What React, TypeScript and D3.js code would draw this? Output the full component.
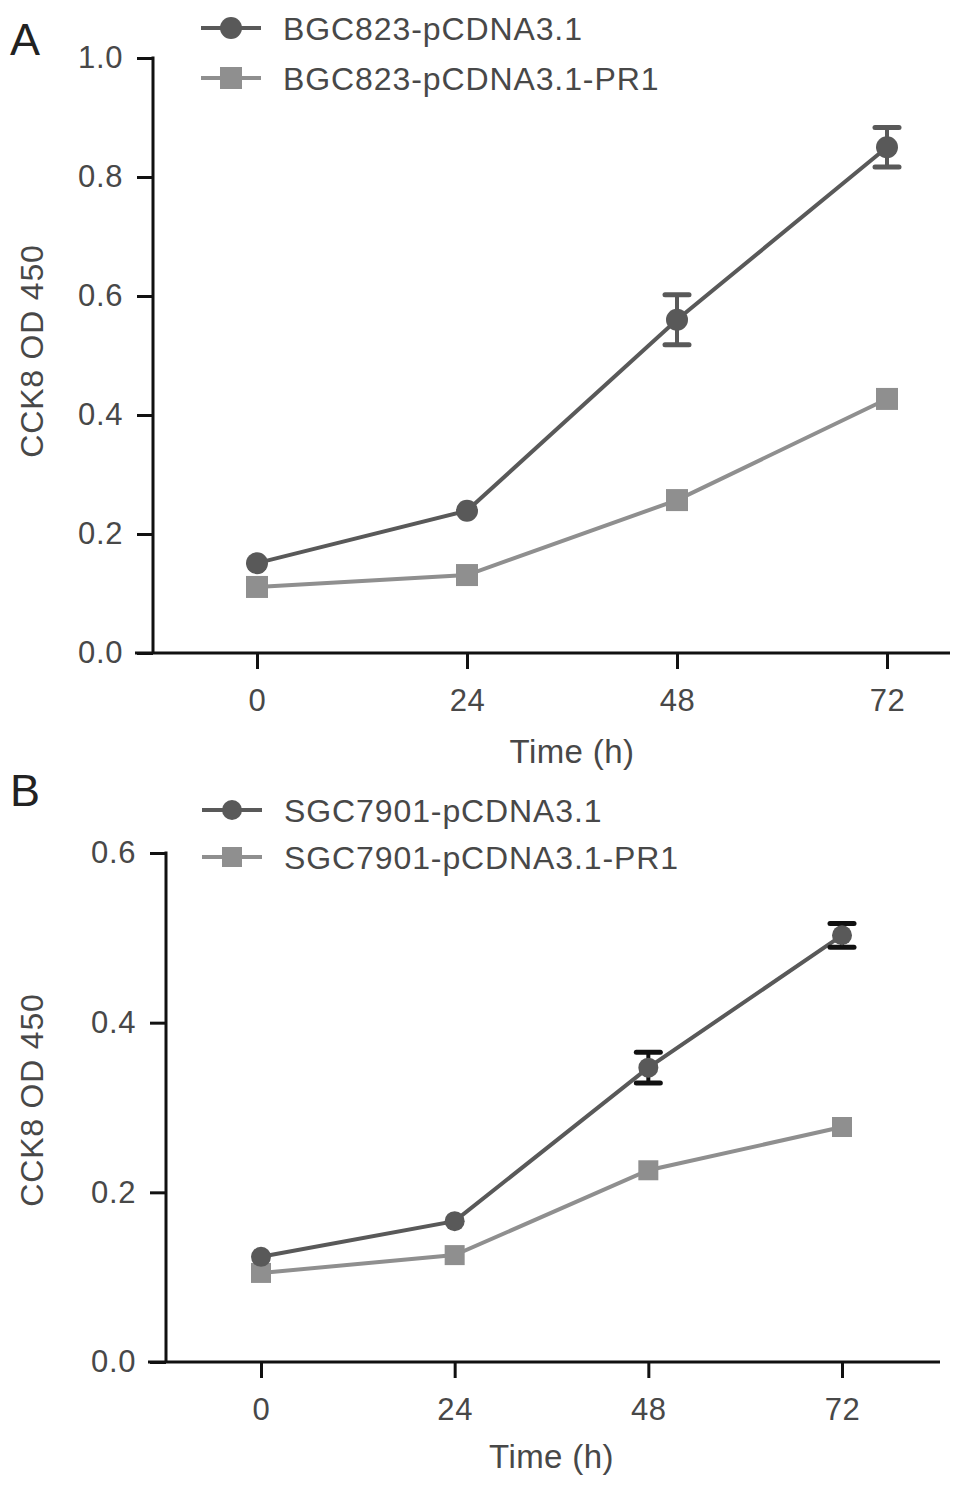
import { useEffect, useRef } from 'react';
import * as d3 from 'd3';

// Time points (h)
const TIMES = [0, 24, 48, 72];

// Panel A — BGC823
const A_LABELS = ['BGC823-pCDNA3.1', 'BGC823-pCDNA3.1-PR1'];
const A_CTRL = [0.151, 0.239, 0.56, 0.85];
const A_CTRL_ERR = [0, 0, 0.042, 0.033];
const A_PR1 = [0.111, 0.131, 0.257, 0.427];
const A_PR1_ERR = [0, 0, 0, 0];
const A_Y_TICKS = [0, 0.2, 0.4, 0.6, 0.8, 1.0];

// Panel B — SGC7901
const B_LABELS = ['SGC7901-pCDNA3.1', 'SGC7901-pCDNA3.1-PR1'];
const B_CTRL = [0.124, 0.166, 0.347, 0.503];
const B_CTRL_ERR = [0, 0, 0.018, 0.014];
const B_PR1 = [0.105, 0.126, 0.226, 0.277];
const B_PR1_ERR = [0, 0, 0, 0];
const B_Y_TICKS = [0, 0.2, 0.4, 0.6];

const FONT = '"Liberation Sans", Arial, Helvetica, sans-serif';
const TEXT = '#484848';
const DARK = '#595959';
const LIGHT = '#8f8f8f';

interface PanelProps {
  letter: string;
  letterY: number;
  labels: string[];
  ctrl: number[];
  ctrlErr: number[];
  pr1: number[];
  pr1Err: number[];
  yTicks: number[];
  yMax: number;
  x0: number; x1: number;       // pixel range for 0..72 h
  yTop: number; yBottom: number; // pixel range for yMax..0
  axisX: number;                 // y-axis position
  xAxisLeft: number; xAxisRight: number;
  legendX: number; legendY: number[];
  errColor: string;
  markerR: number;
  titleY: number;
  yTitleY: number;
}

function Panel(p: PanelProps) {
  const ref = useRef<SVGGElement>(null);

  useEffect(() => {
    if (!ref.current) return;
    const g = d3.select(ref.current);
    g.selectAll('*').remove();

    const x = d3.scaleLinear().domain([0, 72]).range([p.x0, p.x1]);
    const y = d3.scaleLinear().domain([0, p.yMax]).range([p.yBottom, p.yTop]);

    // panel letter
    g.append('text').attr('x', 10).attr('y', p.letterY)
      .attr('font-size', 45).attr('fill', '#222').attr('font-family', FONT).text(p.letter);

    // axes
    g.append('line').attr('x1', p.xAxisLeft).attr('x2', p.xAxisRight)
      .attr('y1', p.yBottom).attr('y2', p.yBottom).attr('stroke', '#111').attr('stroke-width', 3);
    g.append('line').attr('x1', p.axisX).attr('x2', p.axisX)
      .attr('y1', p.yTop - 1.5).attr('y2', p.yBottom).attr('stroke', '#111').attr('stroke-width', 3);

    g.append('g').attr('transform', `translate(0,${p.yBottom})`)
      .call(d3.axisBottom(x).tickValues(TIMES).tickSize(16).tickPadding(20).tickFormat(d3.format('d')))
      .call(s => s.select('.domain').remove())
      .call(s => s.selectAll('.tick line').attr('stroke', '#111').attr('stroke-width', 3))
      .call(s => s.selectAll('text').attr('fill', TEXT).attr('font-size', 31)
        .attr('letter-spacing', 0.6).attr('font-family', FONT));

    g.append('g').attr('transform', `translate(${p.axisX},0)`)
      .call(d3.axisLeft(y).tickValues(p.yTicks).tickSize(16).tickPadding(14).tickFormat(d3.format('.1f')))
      .call(s => s.select('.domain').remove())
      .call(s => s.selectAll('.tick line').attr('stroke', '#111').attr('stroke-width', 3))
      .call(s => s.selectAll('text').attr('fill', TEXT).attr('font-size', 31)
        .attr('letter-spacing', 0.6).attr('font-family', FONT));

    // axis titles
    g.append('text').attr('x', (p.x0 + p.x1) / 2).attr('y', p.titleY)
      .attr('text-anchor', 'middle').attr('fill', TEXT).attr('font-size', 33)
      .attr('letter-spacing', 0.4).attr('font-family', FONT)
      .text('Time (h)');
    g.append('text').attr('transform', `translate(43,${p.yTitleY}) rotate(-90)`)
      .attr('text-anchor', 'middle').attr('fill', TEXT).attr('font-size', 32)
      .attr('letter-spacing', 0.8).attr('font-family', FONT)
      .text('CCK8 OD 450');

    const line = d3.line<number>().x((_, i) => x(TIMES[i])).y(d => y(d));
    const series = [
      { vals: p.pr1, err: p.pr1Err, color: LIGHT, shape: 'square' },
      { vals: p.ctrl, err: p.ctrlErr, color: DARK, shape: 'circle' },
    ];

    series.forEach(s => {
      g.append('path').attr('d', line(s.vals)).attr('fill', 'none')
        .attr('stroke', s.color).attr('stroke-width', 4);
    });

    series.forEach(s => {
      s.vals.forEach((v, i) => {
        const e = s.err[i];
        if (e > 0) {
          const cx = x(TIMES[i]);
          const col = p.errColor;
          g.append('line').attr('x1', cx).attr('x2', cx).attr('y1', y(v + e)).attr('y2', y(v - e))
            .attr('stroke', col).attr('stroke-width', 4);
          [v + e, v - e].forEach(c => {
            g.append('line').attr('x1', cx - 12).attr('x2', cx + 12).attr('y1', y(c)).attr('y2', y(c))
              .attr('stroke', col).attr('stroke-width', 5).attr('stroke-linecap', 'round');
          });
        }
      });
    });

    series.forEach(s => {
      s.vals.forEach((v, i) => {
        const cx = x(TIMES[i]);
        const cy = y(v);
        if (s.shape === 'circle') {
          g.append('circle').attr('cx', cx).attr('cy', cy).attr('r', p.markerR).attr('fill', s.color);
        } else {
          const h = p.markerR;
          g.append('rect').attr('x', cx - h).attr('y', cy - h).attr('width', 2 * h).attr('height', 2 * h)
            .attr('fill', s.color);
        }
      });
    });

    // legend
    const legend = [
      { label: p.labels[0], color: DARK, shape: 'circle' },
      { label: p.labels[1], color: LIGHT, shape: 'square' },
    ];
    legend.forEach((l, i) => {
      const ly = p.legendY[i];
      const lx = p.legendX;
      g.append('line').attr('x1', lx - 30).attr('x2', lx + 30).attr('y1', ly).attr('y2', ly)
        .attr('stroke', l.color).attr('stroke-width', 4);
      if (l.shape === 'circle') {
        g.append('circle').attr('cx', lx).attr('cy', ly).attr('r', p.markerR).attr('fill', l.color);
      } else {
        const h = p.markerR;
        g.append('rect').attr('x', lx - h).attr('y', ly - h).attr('width', 2 * h).attr('height', 2 * h)
          .attr('fill', l.color);
      }
      g.append('text').attr('x', lx + 52).attr('y', ly + 12).attr('fill', TEXT)
        .attr('font-size', 32).attr('letter-spacing', 0.9).attr('font-family', FONT).text(l.label);
    });
  }, [p]);

  return <g ref={ref} />;
}

export default function App() {
  return (
    <svg width={969} height={1488} style={{ position: 'absolute', top: 0, left: 0, display: 'block', background: '#fff' }}>
      <Panel
        letter="A" letterY={55}
        labels={A_LABELS} ctrl={A_CTRL} ctrlErr={A_CTRL_ERR} pr1={A_PR1} pr1Err={A_PR1_ERR}
        yTicks={A_Y_TICKS} yMax={1.0}
        x0={257} x1={887} yTop={58} yBottom={653} axisX={153}
        xAxisLeft={135} xAxisRight={950}
        legendX={231} legendY={[28, 78]}
        errColor={DARK} markerR={11}
        titleY={763} yTitleY={351}
      />
      <Panel
        letter="B" letterY={806}
        labels={B_LABELS} ctrl={B_CTRL} ctrlErr={B_CTRL_ERR} pr1={B_PR1} pr1Err={B_PR1_ERR}
        yTicks={B_Y_TICKS} yMax={0.6}
        x0={261} x1={842} yTop={853} yBottom={1362} axisX={166}
        xAxisLeft={148} xAxisRight={940}
        legendX={232} legendY={[810, 857]}
        errColor="#111" markerR={10}
        titleY={1468} yTitleY={1100}
      />
    </svg>
  );
}
